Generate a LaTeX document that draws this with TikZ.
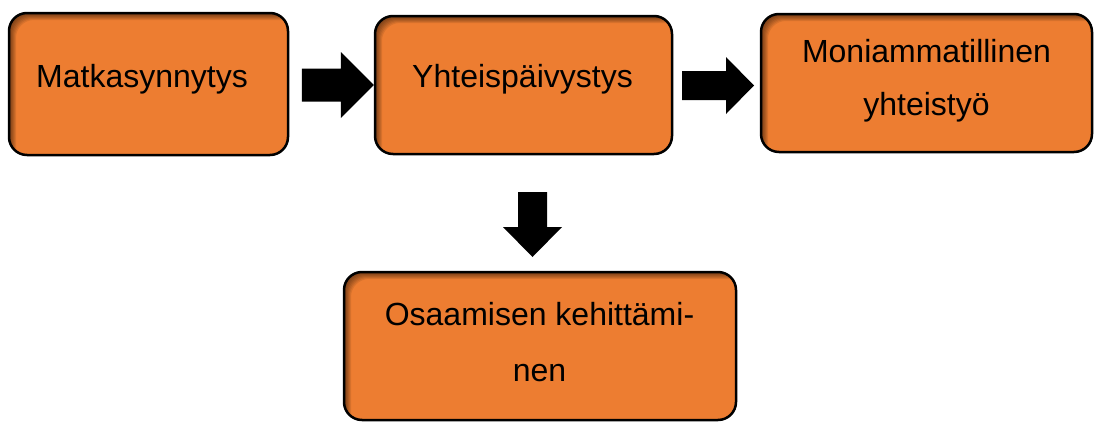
\documentclass[tikz,border=0pt]{standalone}
\usepackage{fontspec}
\setmainfont{Liberation Sans}
\definecolor{boxorange}{HTML}{ED7D31}
\begin{document}
\begin{tikzpicture}[x=1pt,y=-1pt,
  box/.style={draw=black, line width=2.5pt, fill=boxorange, rounded corners=18pt, inner sep=0pt,
    path picture={
      \foreach \s in {1,...,7}{
        \fill[black,opacity=0.085,even odd rule]
          ([shift={(-30pt,30pt)}]path picture bounding box.north west) rectangle
          ([shift={(30pt,-30pt)}]path picture bounding box.south east)
          [rounded corners=18pt]
          ([shift={(\s pt,-\s pt)}]path picture bounding box.north west) rectangle
          ([shift={(\s pt+20pt,-\s pt-20pt)}]path picture bounding box.south east);
      }
    }},
  txt/.style={font=\fontsize{32}{38}\selectfont, anchor=base, inner sep=0pt, text=black},
  blockarrow/.style={fill=black}]
\useasboundingbox (0,0) rectangle (1095,423);

% boxes
\node[box, minimum width=279pt, minimum height=142pt] (b1) at (148.5,84) {};
\node[box, minimum width=297pt, minimum height=138pt] (b2) at (523.5,85) {};
\node[box, minimum width=331pt, minimum height=138pt] (b3) at (926.5,83) {};
\node[box, minimum width=392pt, minimum height=148pt] (b4) at (540,346) {};

% texts
\node[txt] (t1) at (142,87) {Matkasynnytys};
\node[txt] (t2) at (522.5,87) {Yhteispäivystys};
\node[txt] (t3a) at (926.5,62) {Moniammatillinen};
\node[txt] (t3b) at (926.5,115) {yhteistyö};
\node[txt] (t4a) at (539.5,325) {Osaamisen kehittämi-};
\node[txt] (t4b) at (539.5,381) {nen};

% block arrows
\coordinate (a1) at (b2.west);
\fill[blockarrow] (a1) -- ++(-33,-33) -- ++(0,16.5) -- ++(-39,0) -- ++(0,33) -- ++(39,0) -- ++(0,16.5) -- cycle;
\coordinate (a2) at (754,85.5);
\fill[blockarrow] (a2) -- ++(-28,-28.5) -- ++(0,14) -- ++(-44,0) -- ++(0,29) -- ++(44,0) -- ++(0,14) -- cycle;
\coordinate (a3) at (532.5,257);
\fill[blockarrow] (a3) -- ++(-29.5,-30) -- ++(15,0) -- ++(0,-35) -- ++(29,0) -- ++(0,35) -- ++(15,0) -- cycle;
\end{tikzpicture}
\end{document}
